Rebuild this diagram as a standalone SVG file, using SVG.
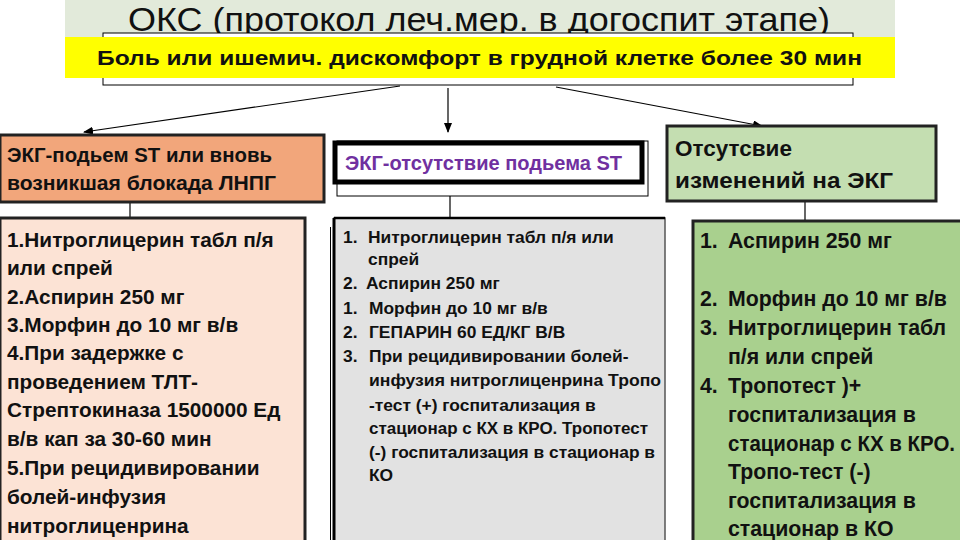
<svg xmlns="http://www.w3.org/2000/svg" width="960" height="540" viewBox="0 0 960 540">
<defs>
<marker id="ah" markerWidth="10" markerHeight="8" refX="9" refY="4" orient="auto" markerUnits="userSpaceOnUse">
<path d="M0,0 L10,4 L0,8 z" fill="#000"/>
</marker>
<style>
text{font-family:"Liberation Sans",Arial,sans-serif;font-weight:bold;fill:#111}
.title{font-weight:normal;font-size:33px;fill:#111}
.b19{font-size:20.8px}
.r21{font-size:21.3px}
.m15{font-size:17.4px}
.conn{stroke:#000;stroke-width:1.2;fill:none}
</style>
</defs>
<rect width="960" height="540" fill="#fff"/>
<g id="title">
<rect x="65" y="0" width="830" height="40" fill="#e2eada"/>
<text class="title" x="128" y="31" textLength="702" lengthAdjust="spacingAndGlyphs">ОКС (протокол леч.мер. в догоспит этапе)</text>
</g>
<g id="pain">
<rect x="103" y="33" width="750" height="52" fill="#fff" stroke="#000" stroke-width="1"/>
<rect x="65" y="37" width="830" height="41" fill="#ffff00"/>
<text x="97" y="65" font-size="21" textLength="765" lengthAdjust="spacingAndGlyphs">Боль или ишемич. дискомфорт в грудной клетке более 30 мин</text>
</g>
<g id="connectors">
<line class="conn" x1="400" y1="86" x2="84" y2="132" marker-end="url(#ah)"/>
<line class="conn" x1="448" y1="88" x2="448" y2="132" marker-end="url(#ah)"/>
<line class="conn" x1="556" y1="87" x2="762" y2="126" marker-end="url(#ah)"/>
<line class="conn" x1="130" y1="202" x2="130" y2="218"/>
<line class="conn" x1="450" y1="196" x2="450" y2="218"/>
<line class="conn" x1="805" y1="202" x2="805" y2="220"/>
</g>
<g id="st-elev">
<rect x="0" y="135" width="324" height="67" fill="#f2a67b" stroke="#222" stroke-width="3"/>
<text x="7" y="162" font-size="20" textLength="265" lengthAdjust="spacingAndGlyphs">ЭКГ-подьем ST или вновь</text>
<text x="7" y="190" font-size="20" textLength="269" lengthAdjust="spacingAndGlyphs">возникшая блокада ЛНПГ</text>
</g>
<g id="st-elev-tx">
<rect x="0" y="218" width="305" height="330" fill="#fce3d5" stroke="#222" stroke-width="3"/>
<text class="b19" x="7" y="247">1.Нитроглицерин табл п/я</text>
<text class="b19" x="7" y="275">или спрей</text>
<text class="b19" x="7" y="304">2.Аспирин 250 мг</text>
<text class="b19" x="7" y="332">3.Морфин до 10 мг в/в</text>
<text class="b19" x="7" y="360">4.При задержке с</text>
<text class="b19" x="7" y="389">проведением ТЛТ-</text>
<text class="b19" x="7" y="417">Стрептокиназа 1500000 Ед</text>
<text class="b19" x="7" y="446">в/в кап за 30-60 мин</text>
<text class="b19" x="7" y="475">5.При рецидивировании</text>
<text class="b19" x="7" y="504">болей-инфузия</text>
<text class="b19" x="7" y="533">нитроглиценрина</text>
</g>
<g id="no-st">
<rect x="337" y="141" width="311" height="55" fill="#fff" stroke="#000" stroke-width="1"/>
<rect x="335" y="143" width="307" height="39" fill="#fff" stroke="#000" stroke-width="5"/>
<text x="345" y="170" font-size="19.5" style="fill:#7030a0" textLength="277" lengthAdjust="spacingAndGlyphs">ЭКГ-отсутствие подьема ST</text>
</g>
<g id="no-st-tx">
<rect x="334" y="218" width="331" height="330" fill="#e2e2e2" stroke="#555" stroke-width="1.5"/>
<line x1="334" y1="218" x2="665" y2="218" stroke="#000" stroke-width="2.5"/>
<line x1="334" y1="218" x2="334" y2="540" stroke="#000" stroke-width="3"/>
<line x1="330.5" y1="227" x2="330.5" y2="540" stroke="#000" stroke-width="1"/>
<text class="m15" x="343" y="243">1.</text><text class="m15" x="368" y="243">Нитроглицерин табл п/я или</text>
<text class="m15" x="368" y="265">спрей</text>
<text class="m15" x="343" y="289">2.</text><text class="m15" x="366" y="289">Аспирин 250 мг</text>
<text class="m15" x="343" y="314">1.</text><text class="m15" x="369" y="314">Морфин до 10 мг в/в</text>
<text class="m15" x="343" y="338">2.</text><text class="m15" x="369" y="338">ГЕПАРИН 60 ЕД/КГ В/В</text>
<text class="m15" x="343" y="362">3.</text><text class="m15" x="369" y="362">При рецидивировании болей-</text>
<text class="m15" x="369" y="386" textLength="292" lengthAdjust="spacingAndGlyphs">инфузия нитроглиценрина Тропо</text>
<text class="m15" x="369" y="411">-тест (+) госпитализация в</text>
<text class="m15" x="369" y="434" textLength="279" lengthAdjust="spacingAndGlyphs">стационар с КХ в КРО. Тропотест</text>
<text class="m15" x="369" y="458" textLength="286" lengthAdjust="spacingAndGlyphs">(-) госпитализация в стационар в</text>
<text class="m15" x="369" y="481">КО</text>
</g>
<g id="no-change">
<rect x="667" y="126" width="269" height="75" fill="#c4deb1" stroke="#222" stroke-width="3"/>
<text x="675" y="156" font-size="22.5">Отсутсвие</text>
<text x="675" y="188" font-size="22.5" textLength="218" lengthAdjust="spacingAndGlyphs">изменений на ЭКГ</text>
</g>
<g id="no-change-tx">
<rect x="693" y="221" width="280" height="330" fill="#a9d08e" stroke="#222" stroke-width="3"/>
<text class="r21" x="700" y="248">1.</text><text class="r21" x="728" y="248">Аспирин 250 мг</text>
<text class="r21" x="700" y="306">2.</text><text class="r21" x="728" y="306">Морфин до 10 мг в/в</text>
<text class="r21" x="700" y="335">3.</text><text class="r21" x="728" y="335">Нитроглицерин табл</text>
<text class="r21" x="728" y="364">п/я или спрей</text>
<text class="r21" x="700" y="393">4.</text><text class="r21" x="728" y="393">Тропотест )+</text>
<text class="r21" x="728" y="422">госпитализация в</text>
<text class="r21" x="728" y="451" textLength="227" lengthAdjust="spacingAndGlyphs">стационар с КХ в КРО.</text>
<text class="r21" x="728" y="479">Тропо-тест (-)</text>
<text class="r21" x="728" y="508">госпитализация в</text>
<text class="r21" x="728" y="536">стационар в КО</text>
</g>
</svg>
